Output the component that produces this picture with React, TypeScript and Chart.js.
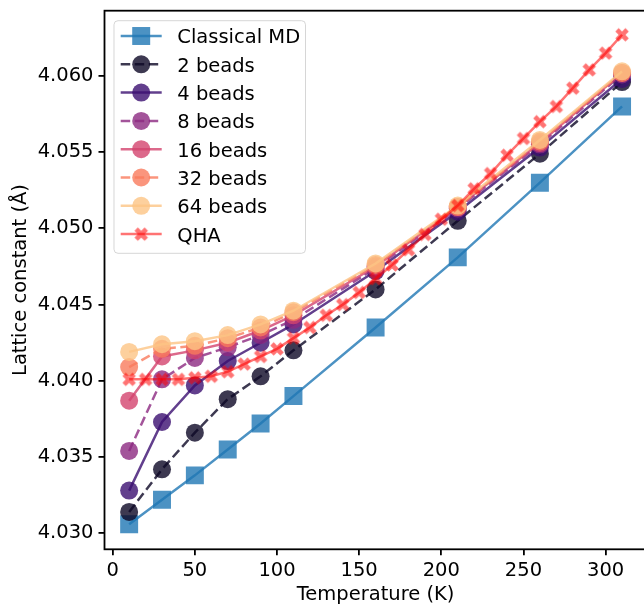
import React, { useEffect, useRef } from "react";
import { Chart, registerables } from "chart.js";

Chart.register(...registerables);

// ---- data ----
const temps = [10, 30, 50, 70, 90, 110, 160, 210, 260, 310];
const classicalMD = [4.0306, 4.0322, 4.0338, 4.0355, 4.0372, 4.0390, 4.0435, 4.0481, 4.0530, 4.0580];
const beads2 = [4.0314, 4.0342, 4.0366, 4.0388, 4.0403, 4.0420, 4.0460, 4.0505, 4.0549, 4.0596];
const beads4 = [4.0328, 4.0373, 4.0397, 4.0413, 4.0425, 4.0437, 4.0472, 4.0511, 4.0553, 4.0598];
const beads8 = [4.0354, 4.0401, 4.0415, 4.0422, 4.0430, 4.0440, 4.0474, 4.0513, 4.0555, 4.0601];
const beads16 = [4.0387, 4.0416, 4.0420, 4.0425, 4.0433, 4.0443, 4.0475, 4.0514, 4.0556, 4.0602];
const beads32 = [4.0409, 4.0421, 4.0423, 4.0428, 4.0435, 4.0445, 4.0476, 4.0514, 4.0557, 4.0602];
const beads64 = [4.0419, 4.0424, 4.0426, 4.0430, 4.0437, 4.0446, 4.0477, 4.0515, 4.0558, 4.0603];
const qhaTemps = [10, 20, 30, 40, 50, 60, 70, 80, 90, 100, 110, 120, 130, 140, 150, 160, 170, 180, 190, 200, 210, 220, 230, 240, 250, 260, 270, 280, 290, 300, 310];
const qha = [4.0401, 4.0401, 4.0401, 4.0401, 4.0402, 4.0403, 4.0406, 4.0411, 4.0416, 4.0421, 4.0428, 4.0435, 4.0443, 4.0450, 4.0458, 4.0467, 4.0476, 4.0486, 4.0496, 4.0506, 4.0515, 4.0526, 4.0536, 4.0548, 4.0559, 4.0570, 4.0580, 4.0592, 4.0604, 4.0615, 4.0627];

const xTicks = [0, 50, 100, 150, 200, 250, 300];
const yTicks = [4.030, 4.035, 4.040, 4.045, 4.050, 4.055, 4.060];

const FONT = "'DejaVu Sans', sans-serif";

function rgba(hex: string, a: number) {
  const h = hex.replace("#", "");
  const r = parseInt(h.slice(0, 2), 16);
  const g = parseInt(h.slice(2, 4), 16);
  const b = parseInt(h.slice(4, 6), 16);
  return `rgba(${r},${g},${b},${a})`;
}

function makeXMarker(size: number, color: string) {
  const c = document.createElement("canvas");
  const dim = Math.ceil(size) + 4;
  c.width = dim;
  c.height = dim;
  const ctx = c.getContext("2d")!;
  const verts = [
    [-1, -2], [0, -1], [1, -2], [2, -1], [1, 0], [2, 1],
    [1, 2], [0, 1], [-1, 2], [-2, 1], [-1, 0], [-2, -1],
  ];
  ctx.beginPath();
  verts.forEach(([vx, vy], i) => {
    const px = dim / 2 + (vx / 4) * size;
    const py = dim / 2 + (vy / 4) * size;
    if (i === 0) ctx.moveTo(px, py);
    else ctx.lineTo(px, py);
  });
  ctx.closePath();
  ctx.fillStyle = color;
  ctx.fill();
  return c;
}

export default function App() {
  const ref = useRef<HTMLCanvasElement>(null);

  useEffect(() => {
    const canvas = ref.current!;
    const ALPHA = 0.8;
    const qhaColor = "rgba(255,0,0,0.55)";
    const xMarker = makeXMarker(13.5, qhaColor);

    type S = {
      label: string;
      xs: number[];
      ys: number[];
      color: string;
      dash: number[];
      style: "circle" | "rect" | "x";
    };
    const series: S[] = [
      { label: "Classical MD", xs: temps, ys: classicalMD, color: rgba("#1f77b4", ALPHA), dash: [], style: "rect" },
      { label: "2 beads", xs: temps, ys: beads2, color: rgba("#0c0826", ALPHA), dash: [9.5, 4.5], style: "circle" },
      { label: "4 beads", xs: temps, ys: beads4, color: rgba("#3b0f70", ALPHA), dash: [], style: "circle" },
      { label: "8 beads", xs: temps, ys: beads8, color: rgba("#8c2981", ALPHA), dash: [9.5, 4.5], style: "circle" },
      { label: "16 beads", xs: temps, ys: beads16, color: rgba("#d3436e", ALPHA), dash: [], style: "circle" },
      { label: "32 beads", xs: temps, ys: beads32, color: rgba("#f97b5d", ALPHA), dash: [9.5, 4.5], style: "circle" },
      { label: "64 beads", xs: temps, ys: beads64, color: rgba("#fdc485", ALPHA), dash: [], style: "circle" },
      { label: "QHA", xs: qhaTemps, ys: qha, color: qhaColor, dash: [], style: "x" },
    ];

    const CIRCLE_R = 9;
    const RECT_R = 12.7; // rect side = 2 * r * sqrt(1/2)
    const LW = 2.5;

    const datasets = series.map((s, i) => ({
      label: s.label,
      data: s.xs.map((x, j) => ({ x, y: s.ys[j] })),
      borderColor: s.color,
      backgroundColor: s.color,
      borderWidth: LW,
      borderDash: s.dash,
      pointStyle: s.style === "rect" ? "rect" : s.style === "x" ? xMarker : "circle",
      pointRadius: s.style === "rect" ? RECT_R : s.style === "x" ? 7 : CIRCLE_R,
      pointBackgroundColor: s.color,
      pointBorderColor: s.color,
      pointBorderWidth: 0,
      order: series.length - i,
      tension: 0,
      fill: false,
    }));

    const framePlugin = {
      id: "frame",
      afterDatasetsDraw(chart: any) {
        const { ctx, chartArea } = chart;
        ctx.save();
        ctx.strokeStyle = "#000";
        ctx.lineWidth = 1.8;
        ctx.strokeRect(chartArea.left, chartArea.top, chartArea.right - chartArea.left, chartArea.bottom - chartArea.top);
        ctx.restore();
      },
    };

    const legendPlugin = {
      id: "customLegend",
      afterDraw(chart: any) {
        const ctx: CanvasRenderingContext2D = chart.ctx;
        const bx = 114, by = 20.7, bw = 191.5, bh = 232.6, rad = 4;
        ctx.save();
        ctx.beginPath();
        ctx.moveTo(bx + rad, by);
        ctx.lineTo(bx + bw - rad, by);
        ctx.arcTo(bx + bw, by, bx + bw, by + rad, rad);
        ctx.lineTo(bx + bw, by + bh - rad);
        ctx.arcTo(bx + bw, by + bh, bx + bw - rad, by + bh, rad);
        ctx.lineTo(bx + rad, by + bh);
        ctx.arcTo(bx, by + bh, bx, by + bh - rad, rad);
        ctx.lineTo(bx, by + rad);
        ctx.arcTo(bx, by, bx + rad, by, rad);
        ctx.closePath();
        ctx.fillStyle = "rgba(255,255,255,0.8)";
        ctx.fill();
        ctx.strokeStyle = "rgba(204,204,204,0.8)";
        ctx.lineWidth = 1;
        ctx.stroke();

        series.forEach((s, i) => {
          const cy = 36 + i * 28.3;
          ctx.save();
          ctx.strokeStyle = s.color;
          ctx.lineWidth = LW;
          ctx.setLineDash(s.dash);
          ctx.beginPath();
          ctx.moveTo(120.7, cy);
          ctx.lineTo(161.7, cy);
          ctx.stroke();
          ctx.setLineDash([]);
          const mx = 141.2;
          ctx.fillStyle = s.color;
          if (s.style === "circle") {
            ctx.beginPath();
            ctx.arc(mx, cy, CIRCLE_R, 0, Math.PI * 2);
            ctx.fill();
          } else if (s.style === "rect") {
            const h = RECT_R * Math.SQRT1_2;
            ctx.fillRect(mx - h, cy - h, 2 * h, 2 * h);
          } else {
            ctx.drawImage(xMarker, mx - xMarker.width / 2, cy - xMarker.height / 2);
          }
          ctx.restore();
          ctx.fillStyle = "#000";
          ctx.font = `19.5px ${FONT}`;
          ctx.textAlign = "left";
          ctx.textBaseline = "alphabetic";
          ctx.fillText(s.label, 177.3, cy + 7.4);
        });
        ctx.restore();
      },
    };

    const chart = new Chart(canvas, {
      type: "line",
      data: { datasets: datasets as any },
      options: {
        animation: false,
        responsive: false,
        maintainAspectRatio: false,
        devicePixelRatio: 1,
        layout: { autoPadding: false, padding: { left: 0, top: 10.7, right: 3.3, bottom: 0 } },
        plugins: { legend: { display: false }, tooltip: { enabled: false } },
        scales: {
          x: {
            type: "linear",
            min: -5,
            max: 325,
            afterBuildTicks: (s: any) => {
              s.ticks = xTicks.map((v) => ({ value: v }));
            },
            afterFit: (s: any) => {
              s.height = 62.7;
              s.paddingLeft = 0;
              s.paddingRight = 0;
              s.paddingTop = 0;
              s.paddingBottom = 0;
            },
            grid: { drawOnChartArea: false, drawTicks: true, tickLength: 6, lineWidth: 1.8, color: "#000" },
            border: { display: false },
            ticks: {
              color: "#000",
              font: { family: FONT, size: 19.5 },
              padding: 4,
              maxRotation: 0,
              autoSkip: false,
              callback: (v: any) => String(v),
            },
            title: {
              display: true,
              text: "Temperature (K)",
              color: "#000",
              font: { family: FONT, size: 19.5 },
              padding: { top: 0, bottom: 5.3 },
            },
          },
          y: {
            type: "linear",
            min: 4.02895,
            max: 4.06428,
            afterBuildTicks: (s: any) => {
              s.ticks = yTicks.map((v) => ({ value: v }));
            },
            afterFit: (s: any) => {
              s.width = 104.5;
              s.paddingLeft = 0;
              s.paddingRight = 0;
              s.paddingTop = 0;
              s.paddingBottom = 0;
            },
            grid: { drawOnChartArea: false, drawTicks: true, tickLength: 6, lineWidth: 1.8, color: "#000" },
            border: { display: false },
            ticks: {
              color: "#000",
              font: { family: FONT, size: 19.5 },
              padding: 5,
              autoSkip: false,
              callback: (v: any) => Number(v).toFixed(3),
            },
            title: {
              display: true,
              text: "Lattice constant (Å)",
              color: "#000",
              font: { family: FONT, size: 19.5 },
              padding: { top: 9.3, bottom: 0 },
            },
          },
        },
      } as any,
      plugins: [framePlugin, legendPlugin],
    });

    return () => chart.destroy();
  }, []);

  return (
    <div style={{ position: "fixed", left: 0, top: 0, width: 644, height: 605, overflow: "hidden", background: "#fff" }}>
      <canvas ref={ref} width={650} height={612} style={{ display: "block", width: 650, height: 612 }} />
    </div>
  );
}
